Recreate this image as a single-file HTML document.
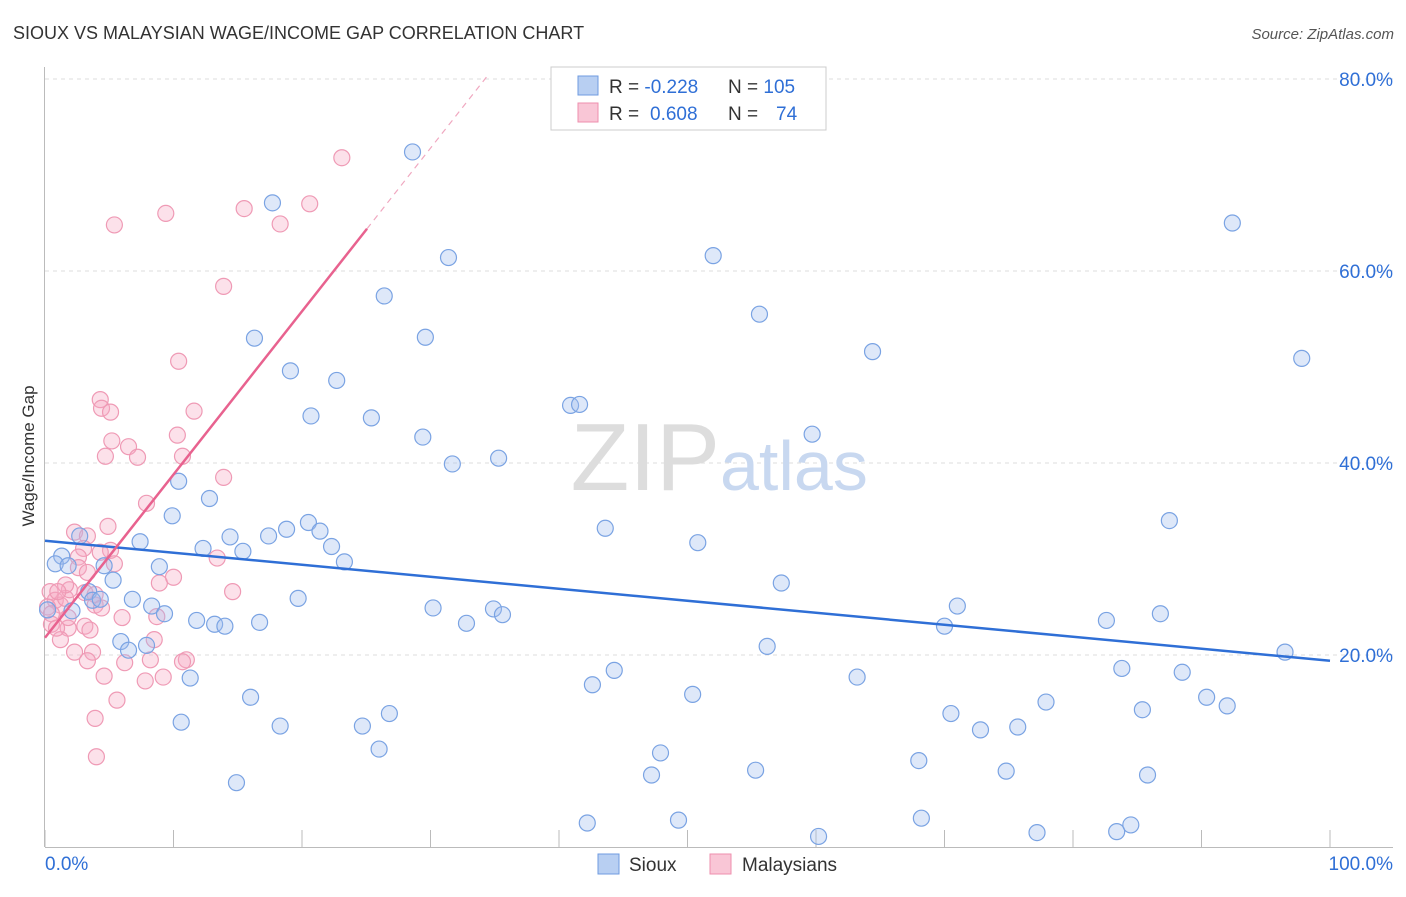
<!DOCTYPE html>
<html><head><meta charset="utf-8"><style>
body{margin:0;background:#fff;font-family:"Liberation Sans",sans-serif}
svg text{font-family:"Liberation Sans",sans-serif}
</style></head><body>
<svg width="1406" height="892" viewBox="0 0 1406 892">
<text x="13" y="39" font-size="18" fill="#333">SIOUX VS MALAYSIAN WAGE/INCOME GAP CORRELATION CHART</text>
<text x="1394" y="39" font-size="15" fill="#555" font-style="italic" text-anchor="end">Source: ZipAtlas.com</text>
<text x="34" y="456" font-size="17" fill="#333" text-anchor="middle" transform="rotate(-90 34 456)">Wage/Income Gap</text>
<g id="grid"></g>
<g id="axes"></g>
<text x="720" y="490" font-size="96" fill="#ddd" text-anchor="end" font-family="Liberation Serif">ZIP</text>
<text x="720" y="490" font-size="70" fill="#c8d8f0">atlas</text>
<g id="pts"></g>
<g id="lines"></g>
<g>
<rect x="551" y="67" width="275" height="63" fill="#fff" stroke="#ccc"/>
<rect x="578" y="76" width="20" height="19" fill="#b8cff2" stroke="#6f9be0"/>
<rect x="578" y="103" width="20" height="19" fill="#f9c6d6" stroke="#ee8fae"/>
<text x="609" y="93" font-size="19" fill="#333">R = <tspan fill="#2f6fd6">-0.228</tspan><tspan x="728">N = </tspan><tspan fill="#2f6fd6">105</tspan></text>
<text x="609" y="120" font-size="19" fill="#333">R = <tspan fill="#2f6fd6" x="650">0.608</tspan><tspan x="728">N = </tspan><tspan fill="#2f6fd6" x="776">74</tspan></text>
</g>
<g>
<rect x="598" y="854" width="21" height="20" fill="#b8cff2" stroke="#6f9be0"/>
<text x="629" y="871" font-size="19" fill="#333">Sioux</text>
<rect x="710" y="854" width="21" height="20" fill="#f9c6d6" stroke="#ee8fae"/>
<text x="742" y="871" font-size="19" fill="#333">Malaysians</text>
</g>
</svg>
<script>
const xTicks=[0,10,20,30,40,50,60,70,80,90,100];
const yTicks=[20,40,60,80];
const yTickLabels=["20.0%","40.0%","60.0%","80.0%"];
const xEndLabels=["0.0%","100.0%"];
const siouxX=[28.6,17.7,31.4,52.0,92.4,26.4,16.3,29.6,55.6,64.4,97.8,19.1,22.7,20.7,25.4,40.9,41.6,29.4,59.7,31.7,35.3,10.4,12.8,9.9,7.4,12.3,14.4,15.4,17.4,18.8,20.5,21.4,22.3,23.3,43.6,50.8,87.5,1.3,0.8,1.8,2.7,4.6,5.3,8.9,3.4,3.7,4.3,6.8,8.3,9.3,19.7,30.2,34.9,35.6,32.8,11.8,13.2,14.0,16.7,57.3,71.0,70.0,82.6,86.8,96.5,2.1,5.9,6.5,7.9,11.3,56.2,44.3,42.6,50.4,63.2,83.8,88.5,90.4,92.0,85.4,77.9,70.5,72.8,75.7,16.0,18.3,24.7,26.8,26.0,10.6,14.9,47.9,47.2,55.3,68.0,74.8,85.8,42.2,49.3,60.2,68.2,77.2,83.4,84.5,0.2];
const siouxY=[72.4,67.1,61.4,61.6,65.0,57.4,53.0,53.1,55.5,51.6,50.9,49.6,48.6,44.9,44.7,46.0,46.1,42.7,43.0,39.9,40.5,38.1,36.3,34.5,31.8,31.1,32.3,30.8,32.4,33.1,33.8,32.9,31.3,29.7,33.2,31.7,34.0,30.3,29.5,29.3,32.4,29.3,27.8,29.2,26.6,25.7,25.8,25.8,25.1,24.3,25.9,24.9,24.8,24.2,23.3,23.6,23.2,23.0,23.4,27.5,25.1,23.0,23.6,24.3,20.3,24.6,21.4,20.5,21.0,17.6,20.9,18.4,16.9,15.9,17.7,18.6,18.2,15.6,14.7,14.3,15.1,13.9,12.2,12.5,15.6,12.6,12.6,13.9,10.2,13.0,6.7,9.8,7.5,8.0,9.0,7.9,7.5,2.5,2.8,1.1,3.0,1.5,1.6,2.3,24.7];
const malayX=[23.1,9.4,5.4,15.5,20.6,18.3,13.9,10.4,4.3,4.4,5.1,11.6,10.3,5.2,6.5,4.7,7.2,10.7,13.9,7.9,2.3,3.3,4.9,3.0,5.1,5.4,2.6,2.6,13.4,10.0,8.9,14.6,0.4,0.8,1.2,1.6,0.2,0.5,1.9,3.1,3.9,3.9,4.4,6.0,8.7,1.8,3.1,3.5,6.2,8.2,8.5,11.0,10.7,9.2,4.6,7.8,2.3,3.7,3.3,1.2,5.6,3.9,4.0,0.5,0.9,1.8,1.6,1.0,4.3,3.3];
const malayY=[71.8,66.0,64.8,66.5,67.0,64.9,58.4,50.6,46.6,45.7,45.3,45.4,42.9,42.3,41.7,40.7,40.6,40.7,38.5,35.8,32.8,32.4,33.4,31.1,30.9,29.5,30.2,29.1,30.1,28.1,27.5,26.6,26.6,25.7,25.2,25.9,25.0,24.3,26.8,26.5,26.3,25.2,24.9,23.9,24.0,22.8,23.0,22.6,19.2,19.5,21.6,19.5,19.3,17.7,17.8,17.3,20.3,20.3,19.4,21.6,15.3,13.4,9.4,23.2,22.8,23.9,27.3,26.6,30.7,28.6];
const siouxTrend=[31.9,19.4];       // value at x=0, x=100
const malayTrend=[21.8,1.70];       // intercept, slope
const malaySolidEnd=25.06, malayDashEnd=34.4;

const NS="http://www.w3.org/2000/svg";
const sx=v=>45+v*12.85, sy=v=>847-v*9.6;
function mk(tag,attrs,parent){const e=document.createElementNS(NS,tag);for(const k in attrs)e.setAttribute(k,attrs[k]);parent.appendChild(e);return e;}
const grid=document.getElementById('grid'),axes=document.getElementById('axes'),pts=document.getElementById('pts'),lines=document.getElementById('lines');
yTicks.forEach((t,i)=>{
 const l=mk('line',{x1:45,x2:1393,y1:sy(t),y2:sy(t),stroke:'#ddd','stroke-dasharray':'4,4'},grid);
 
 
 const tx=mk('text',{x:1393,y:sy(t)+7,'font-size':19,fill:'#2f6fd6','text-anchor':'end'},axes);
 tx.textContent=yTickLabels[i];
 
 
});
const ya=mk('line',{x1:44.5,x2:44.5,y1:67,y2:847,stroke:'#bbb'},axes);


const xa=mk('line',{x1:45,x2:1393,y1:847.5,y2:847.5,stroke:'#bbb'},axes);


xTicks.forEach(t=>{
 const l=mk('line',{x1:sx(t),x2:sx(t),y1:830,y2:847,stroke:'#bbb'},axes);
 
 
});
const xl0=mk('text',{x:45,y:870,'font-size':19,fill:'#2f6fd6'},axes);
xl0.textContent=xEndLabels[0];


const xl1=mk('text',{x:1393,y:870,'font-size':19,fill:'#2f6fd6','text-anchor':'end'},axes);
xl1.textContent=xEndLabels[1];


malayX.forEach((x,i)=>{
 const c=mk('circle',{cx:sx(x),cy:sy(malayY[i]),r:8,fill:'rgba(246,170,196,0.35)',stroke:'#ef9ab5','stroke-width':1.2},pts);
 
 
});
siouxX.forEach((x,i)=>{
 const c=mk('circle',{cx:sx(x),cy:sy(siouxY[i]),r:8,fill:'rgba(160,190,238,0.35)',stroke:'#7aa3e3','stroke-width':1.2},pts);
 
 
});
const sl=mk('line',{x1:sx(0),y1:sy(siouxTrend[0]),x2:sx(100),y2:sy(siouxTrend[1]),stroke:'#2f6fd6','stroke-width':2.5},lines);


const my=x=>malayTrend[0]+malayTrend[1]*x;
const ml=mk('line',{x1:sx(0),y1:sy(my(0)),x2:sx(malaySolidEnd),y2:sy(my(malaySolidEnd)),stroke:'#e8628f','stroke-width':2.5},lines);


const md=mk('line',{x1:sx(malaySolidEnd),y1:sy(my(malaySolidEnd)),x2:sx(malayDashEnd),y2:sy(my(malayDashEnd)),stroke:'#f0a8c0','stroke-width':1.2,'stroke-dasharray':'6,5'},lines);


</script>
</body></html>
